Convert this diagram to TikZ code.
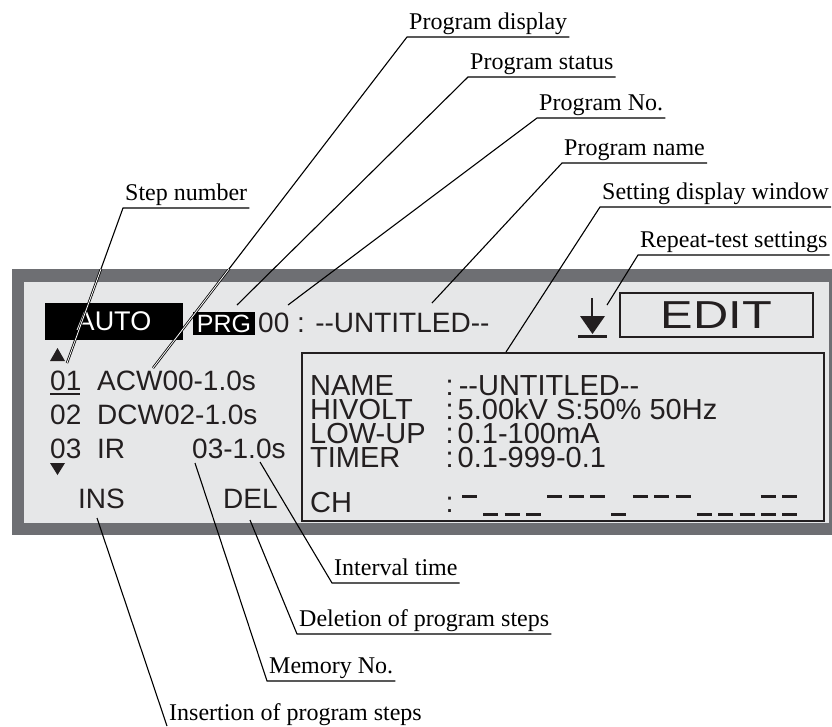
\documentclass[tikz,border=0pt]{standalone}
\usepackage{fontspec}
\setmainfont{Liberation Serif}
\newfontfamily\lcdface{Liberation Sans}
\usetikzlibrary{calc,positioning}
\definecolor{bezel}{RGB}{110,111,115}
\definecolor{lcd}{RGB}{230,231,232}
\definecolor{ink}{RGB}{35,31,32}
\newcommand\lblsize{\fontsize{24}{24}\selectfont}
\newcommand\lcdsize[1]{\lcdface\fontsize{#1}{#1}\selectfont}

\begin{document}
\begin{tikzpicture}[
      x=1pt, y=-1pt,
      callout/.style={anchor=base west, inner xsep=2pt, inner ysep=0pt, font=\lblsize},
      leader/.style={line width=1.1pt, black},
      halo/.style={line width=2.4pt, black, postaction={draw=white, line width=0.8pt}},
      lcdL/.style={anchor=base west, inner sep=0pt, text=ink, font=\lcdsize{28}},
      lcdR/.style={anchor=base west, inner sep=0pt, text=ink, font=\lcdsize{29}},
      lcdRows/.style={anchor=north west, inner sep=0pt, text=ink, align=left,
                      font=\lcdface\fontsize{29}{24}\selectfont},
      tag/.style={fill=black, text=white, inner sep=0pt, anchor=center},
      chbar/.style={line width=3pt, ink}
    ]
    \useasboundingbox (0,0) rectangle (832,726);

    % -------- BEZEL AND SCREEN --------
    \node[fill=bezel, minimum width=820, minimum height=266, anchor=north west, inner sep=0] (bezel) at (12,269) {};
    \node[fill=lcd, minimum width=805, minimum height=241, anchor=north west, inner sep=0] (screen) at (24,282) {};

    % top line
    \node[tag, minimum width=138, minimum height=37, font=\lcdsize{27}] (auto) at (114,321.5) {AUTO};
    \node[tag, minimum width=62, minimum height=23, font=\lcdsize{25}] (prg) at (224,323.5) {PRG};
    \node[lcdL] (pname) at (258,332) {00 : --UNTITLED--};

    % repeat-test mark
    \draw[line width=2pt, ink] (592,298) -- (592,318);
    \fill[ink] (580,316) -- (605,316) -- (592.5,334) -- cycle;
    \draw[line width=2.2pt, ink] (578,336.5) -- (607,336.5);

    \node[draw=ink, line width=2pt, minimum width=193, minimum height=44, inner sep=0,
          font=\lcdsize{39}, text=ink] (edit) at (716.5,315) {\scalebox{1.25}[1]{EDIT}};

    % step list
    \fill[ink] (50,361) -- (65,361) -- (57.5,348) -- cycle;
    \node[lcdL] (s1) at (50,390) {01};
    \draw[line width=1.8pt, ink] (50,394) -- (80,394);
    \node[lcdL] (s1m) at (97,390) {ACW00-1.0s};
    \node[lcdL] (s2) at (50,424) {02};
    \node[lcdL] (s2m) at (97,424) {DCW02-1.0s};
    \node[lcdL] (s3) at (50,458) {03};
    \node[lcdL] (s3m) at (97,458) {IR};
    \node[lcdL] (s3t) at (192,458) {03-1.0s};
    \fill[ink] (50,463) -- (65,463) -- (57.5,475) -- cycle;
    \node[lcdL] (ins) at (78,508) {INS};
    \node[lcdL] (del) at (223,508) {DEL};

    % setting window
    \node[draw=ink, line width=2.5pt, minimum width=522, minimum height=168, inner sep=0] (setbox) at (563,437) {};
    \node[lcdRows] (keys) at (310,375) {NAME\\HIVOLT\\LOW-UP\\TIMER};
    \node[lcdRows] (vals) at (445.5,375) {:\hspace{5pt}--UNTITLED--\\:\hspace{4pt}5.00kV S:50\% 50Hz\\:\hspace{4pt}0.1-100mA\\:\hspace{4pt}0.1-999-0.1};
    \node[lcdR] (kCh) at (310,512) {CH};
    \node[lcdR] (vCh) at (445.5,512) {:};
    \foreach \k in {0,4,5,6,8,9,10,14,15}
      \draw[chbar] ({462+21.35*\k},496.5) -- ++(15,0);
    \foreach \k in {1,2,3,7,11,12,13,14,15}
      \draw[chbar] ({462+21.35*\k},514) -- ++(15,0);

    % -------- CALLOUTS --------
    \node[callout] (lStep)  at (123,200) {Step number};
    \node[callout] (lPdisp) at (407,29)  {Program display};
    \node[callout] (lPstat) at (468,69)  {Program status};
    \node[callout] (lPno)   at (537,110) {Program No.};
    \node[callout] (lPname) at (562,155) {Program name};
    \node[callout] (lSet)   at (600,199) {Setting display window};
    \node[callout] (lRep)   at (638,247) {Repeat-test settings};
    \node[callout] (lIntv)  at (332,575) {Interval time};
    \node[callout] (lDel)   at (297,626) {Deletion of program steps};
    \node[callout] (lMem)   at (267,673) {Memory No.};
    \node[callout] (lIns)   at (167,720) {Insertion of program steps};

    \coordinate (lStep-tip)  at (67,363);
    \coordinate (lPdisp-tip) at (153,368);
    \coordinate (lPstat-tip) at (237,305);
    \coordinate (lPno-tip)   at (288,305);
    \coordinate (lPname-tip) at (432,303);
    \coordinate (lSet-tip)   at (506,352);
    \coordinate (lRep-tip)   at (607,305);
    \coordinate (lIntv-tip)  at (260,462);
    \coordinate (lDel-tip)   at (250,520);
    \coordinate (lMem-tip)   at (195,463);
    \coordinate (lIns-tip)   at (97,518);

    \foreach \n in {lStep,lPdisp,lPstat,lPno,lPname,lSet,lRep,lIntv,lDel,lMem}
      \draw[leader] (\n-tip) -- ($(\n.base west)+(0,8)$) -- ($(\n.base east)+(0,8)$);
    \draw[leader] (lIns-tip) -- ($(lIns.base west)+(0,6)$);

    % white-cored leaders over the screen
    \begin{scope}
      \clip (bezel.north west) rectangle (bezel.south east);
      \draw[halo] (lStep-tip) -- ($(lStep.base west)+(0,8)$);
      \draw[halo] (lPdisp-tip) -- ($(lPdisp.base west)+(0,8)$);
    \end{scope}

\end{tikzpicture}
\end{document}
